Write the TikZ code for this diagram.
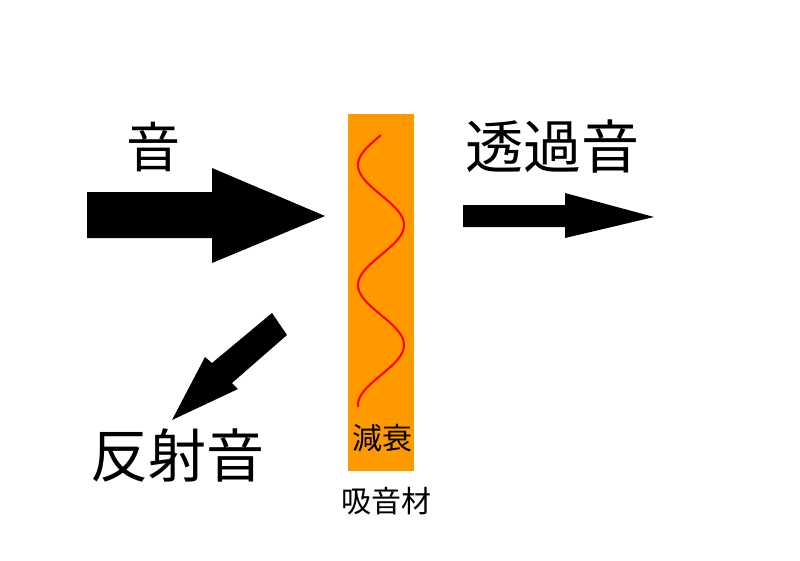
\documentclass[tikz,border=0pt]{standalone}
\usepackage{fontspec}
\setmainfont{Noto Sans CJK JP}
\usepackage{tikz}
\definecolor{absorb}{HTML}{FF9900}

\begin{document}
\begin{tikzpicture}[x = 1pt, y = -1pt, inner sep = 0pt]
        \useasboundingbox (0,0) rectangle (800,560);
        
        % incoming sound
        \fill (87,192) -- (212,192) -- (212,168) -- (325,216)
        -- (212,263) -- (212,238) -- (87,238) -- cycle;
        
        % transmitted sound
        \fill (463,205) -- (565,205) -- (565,193) -- (654,217)
        -- (565,238) -- (565,227) -- (463,227) -- cycle;
        
        % reflected sound
        \fill (272,313) -- (287,335) -- (232,383) -- (238,389)
        -- (172,420) -- (205,357) -- (212,363) -- cycle;
        
        % absorber
        \fill [absorb] (348,114) rectangle (414,471);
        \draw [red, line width = 2pt, smooth]
        plot[domain = 135:407, samples = 120] ({381 - 23*sin(3*(\x - 135))}, \x);
        
        \node (sound) at (153,147) {\fontsize{54}{60}\selectfont 音};
        \node (trans) at (552,146) {\fontsize{58}{64}\selectfont 透過音};
        \node (refl) at (177,455) {\fontsize{58}{64}\selectfont 反射音};
        \node (decay) at (382,438) {\fontsize{30}{34}\selectfont 減衰};
        \node (mat) at (386,501) {\fontsize{30}{34}\selectfont 吸音材};
    \end{tikzpicture}
\end{document}
